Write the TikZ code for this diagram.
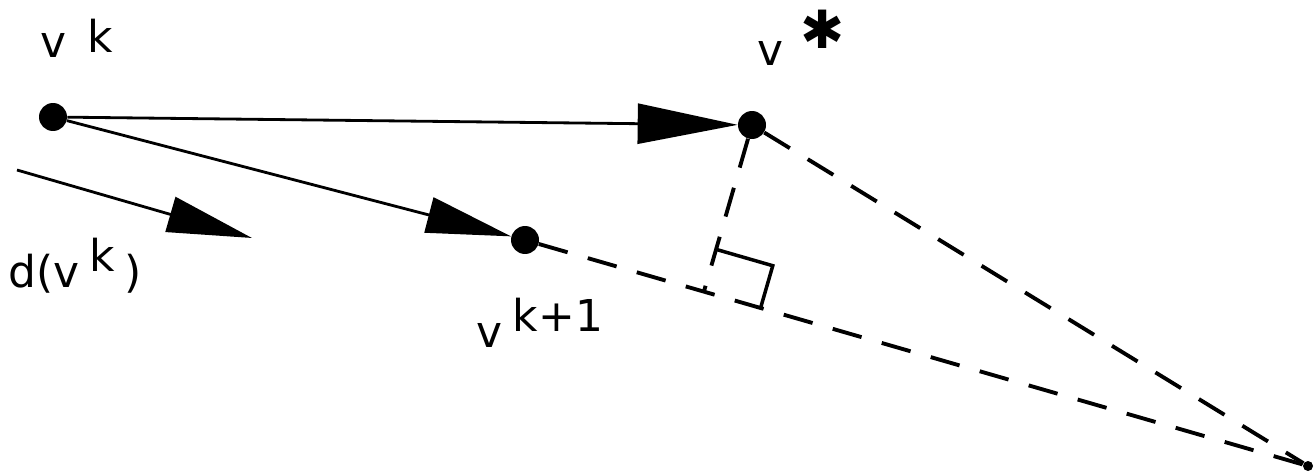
\documentclass[tikz,border=0pt]{standalone}
\usepackage{fontspec}
\setmainfont{DejaVu Sans}
\newfontfamily\symfont{DejaVu Sans}
\usetikzlibrary{arrows.meta,calc}
\begin{document}
\begin{tikzpicture}[x=0.02cm,y=-0.02cm,
  dot/.style={circle,fill=black,inner sep=0pt,minimum size=0.56cm},
  conn/.style={line width=1.6pt},
  dashline/.style={line width=2.2pt,dash pattern=on 0.6cm off 0.42cm},
  bigtip/.style={-{Triangle[length=2cm,width=0.8cm]}},
  midtip/.style={-{Triangle[length=1.7cm,width=0.72cm]}},
  lbl/.style={font=\fontsize{25}{29}\selectfont,inner sep=0pt}
]
\useasboundingbox (0,0) rectangle (1314,476);
% points
\node[dot] (vk) at (53,117) {};
\node[dot] (vs) at (752,125) {};
\node[dot] (vk1) at (525,240) {};
\node[dot,minimum size=0.2cm] (far) at (1308,466) {};
\coordinate (ds) at (17,170);
\coordinate (de) at (252,238);
% arrows
\draw[conn,bigtip] (vk) -- (vs);
\draw[conn,midtip] (vk) -- (vk1);
\draw[conn,midtip] (ds) -- (de);
% dashed lines
\draw[dashline] (vk1) -- (far);
\draw[dashline] (vs) -- (far);
\coordinate (foot) at ($(vk1)!(vs)!(far)$);
\draw[dashline] (vs) -- (foot);
% right angle marker
\coordinate (ra) at ($(foot)!0.88cm!(vs)$);
\coordinate (rc) at ($(foot)!1.18cm!(far)$);
\coordinate (rb) at ($(ra)+(rc)-(foot)$);
\draw[line width=2pt] (ra) -- (rb) -- (rc);
% labels
\node[lbl,anchor=base west] (lvk) at (40,58) {v\hspace{12pt}\raisebox{3pt}{k}};
\node[lbl,anchor=base west] (lvs) at (757,66) {v\hspace{10pt}\raisebox{10pt}{\symfont\fontsize{30}{30}\selectfont ✱}};
\node[lbl,anchor=base west] (lvk1) at (476,347) {v\hspace{6pt}\raisebox{9pt}{k+1}};
\node[lbl,anchor=base west] (ld) at (8,287) {d(v\hspace{6pt}\raisebox{9pt}{k}\hspace{5pt})};
\end{tikzpicture}
\end{document}
